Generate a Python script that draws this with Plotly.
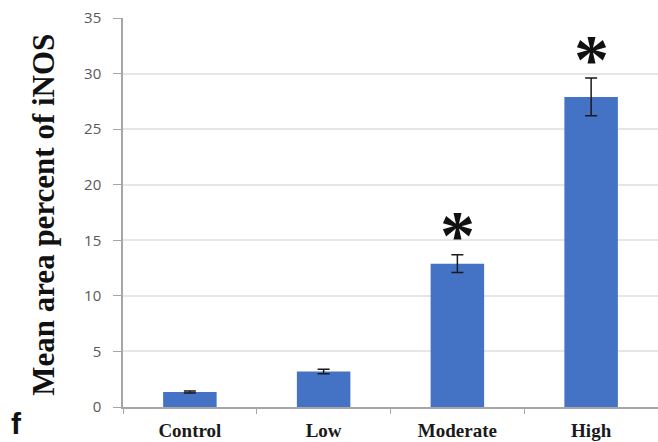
import plotly.graph_objects as go

# Mean iNOS area percentage per dose group
groups = ["Control", "Low", "Moderate", "High"]
means = [1.35, 3.2, 12.9, 27.9]
sem = [0.1, 0.2, 0.8, 1.7]
significant = [False, False, True, True]
y_ticks = [0, 5, 10, 15, 20, 25, 30, 35]

bar_color = "#4472c4"
axis_color = "#a6a6a6"

fig = go.Figure()
fig.add_trace(go.Bar(
    x=groups,
    y=means,
    width=0.4,
    marker=dict(color=bar_color, line=dict(width=0)),
    error_y=dict(type="data", array=sem, visible=True,
                 color="#1a1a1a", thickness=1.5, width=6),
))

# Significance markers above the error bars
for g, m, e, s in zip(groups, means, sem, significant):
    if s:
        fig.add_annotation(x=g, y=m + e, text="<b>*</b>", showarrow=False,
                           yanchor="middle", yshift=19,
                           font=dict(family="Liberation Serif", size=70, color="#111111"))

# Axis title drawn as a rotated annotation
fig.add_annotation(xref="paper", yref="paper", x=(44 - 123) / 535, y=0.494,
                   text="<b>Mean area percent of iNOS</b>", textangle=-90,
                   showarrow=False, xanchor="center", yanchor="middle",
                   font=dict(family="Liberation Serif", size=31, color="#111111"))

# Panel letter
fig.add_annotation(xref="paper", yref="paper", x=(9 - 123) / 535, y=(407 - 442) / 389,
                   text="<b>f</b>", showarrow=False, xanchor="left", yanchor="bottom",
                   font=dict(family="Liberation Sans", size=30, color="#111111"))

fig.update_layout(
    width=658, height=442,
    margin=dict(l=123, r=0, t=18, b=35),
    paper_bgcolor="white", plot_bgcolor="white",
    showlegend=False,
    bargap=0.6,
    xaxis=dict(
        type="category",
        showline=True, linecolor=axis_color, linewidth=1.5,
        ticks="outside", tickson="boundaries", ticklen=5, tickcolor=axis_color,
        ticklabelstandoff=5,
        tickfont=dict(family="Liberation Serif", size=19, color="#1a1a1a"),
        tickvals=groups,
        ticktext=["<b>Control</b>", "<b>Low</b>", "<b>Moderate</b>", "<b>High</b>"],
        showgrid=False,
    ),
    yaxis=dict(
        range=[0, 35],
        tickvals=y_ticks,
        showline=True, linecolor=axis_color, linewidth=1.5,
        ticks="outside", ticklen=8, tickcolor=axis_color,
        ticklabelstandoff=9,
        tickfont=dict(family="Open Sans", size=15, color="#595959"),
        showgrid=True, gridcolor="#e6e6e6", gridwidth=1.5,
        zeroline=False,
    ),
)

fig.write_html("out.html")
